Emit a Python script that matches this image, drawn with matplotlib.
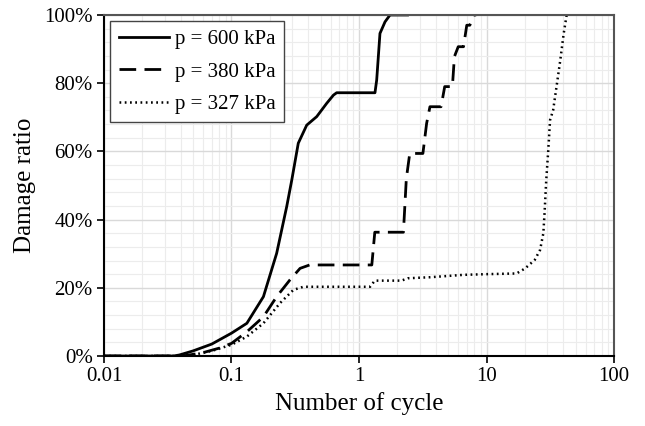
import numpy as np
import matplotlib
matplotlib.use("Agg")
import matplotlib.pyplot as plt
from matplotlib.ticker import FixedLocator, MultipleLocator, FuncFormatter, LogLocator

plt.rcParams['font.family'] = 'serif'
plt.rcParams['font.serif'] = ['Liberation Serif', 'DejaVu Serif']

# p = 600 kPa (solid)
n_600 = [0.01, 0.035, 0.039, 0.05, 0.07, 0.1, 0.132, 0.178, 0.226, 0.271, 0.297,
         0.334, 0.389, 0.466, 0.558, 0.63, 0.668, 1.334, 1.376, 1.46, 1.6, 1.75, 2.4]
d_600 = [0, 0, 0.3, 1.5, 3.5, 6.7, 9.6, 17.4, 30.1, 43.8, 51.6,
         62.4, 67.7, 70.2, 74.1, 76.5, 77.2, 77.2, 80.9, 94.6, 98.0, 100, 100]

# p = 380 kPa (dashed)
n_380 = [0.01, 0.04, 0.045, 0.06, 0.08, 0.1, 0.132, 0.178, 0.226, 0.287, 0.345, 0.41,
         1.26, 1.33, 1.67, 2.23, 2.35, 2.5, 3.17, 3.39, 3.6, 4.4, 4.7, 5.4, 5.6, 6.0,
         6.6, 7.0, 7.4, 7.9, 8.3]
d_380 = [0, 0, 0.2, 1.0, 2.3, 3.7, 7.1, 11.5, 17.4, 22.3, 25.7, 26.7,
         26.7, 36.3, 36.3, 36.3, 52, 59.4, 59.4, 68.2, 73.1, 73.1, 79.0, 79.0, 87.8, 90.7,
         90.7, 97.0, 97.0, 100, 100]

# p = 327 kPa (dotted)
n_327 = [0.01, 0.045, 0.05, 0.07, 0.1, 0.132, 0.178, 0.24, 0.306, 0.366, 1.22, 1.33,
         2.15, 2.42, 3.6, 6.6, 10.0, 17.2, 20.1, 23.9, 26.3, 27.9, 28.5, 29.4, 30.5,
         31.5, 33.3, 35.4, 37.9, 40.3, 42.5]
d_327 = [0, 0, 0.3, 1.5, 3.3, 5.7, 9.6, 15.5, 19.4, 20.3, 20.3, 22.1,
         22.1, 22.8, 23.1, 23.8, 24.0, 24.2, 25.7, 28.2, 31.1, 36.0, 41.8, 51.6, 60.4,
         69.2, 72.1, 79.0, 86.8, 94.6, 100]

x_ticks = [0.01, 0.1, 1, 10, 100]
x_labels = ['0.01', '0.1', '1', '10', '100']

fig = plt.figure(figsize=(6.45, 4.26), dpi=100)
ax = fig.add_axes([0.1612, 0.1643, 0.7908, 0.8005])

ax.plot(n_600, d_600, color='black', lw=2.0, ls='-', label='p = 600 kPa')
ax.plot(n_380, d_380, color='black', lw=2.0, ls=(0, (6, 3)), label='p = 380 kPa')
ax.plot(n_327, d_327, color='black', lw=1.8, ls=(0, (0.7, 1.4)), label='p = 327 kPa')

ax.set_xscale('log')
ax.set_xlim(0.01, 100)
ax.set_ylim(0, 100)
ax.xaxis.set_major_locator(FixedLocator(x_ticks))
ax.set_xticklabels(x_labels)
ax.xaxis.set_minor_locator(LogLocator(base=10, subs=np.arange(2, 10)))
ax.yaxis.set_major_locator(MultipleLocator(20))
ax.yaxis.set_minor_locator(MultipleLocator(4))
ax.yaxis.set_major_formatter(FuncFormatter(lambda v, p: f"{v:.0f}%"))

ax.grid(which='major', color='#d9d9d9', lw=1.0)
ax.grid(which='minor', color='#ececec', lw=0.8)
ax.set_axisbelow(True)

ax.tick_params(which='major', direction='out', length=5, width=1.2, labelsize=15, pad=3)
ax.tick_params(which='minor', length=0)
for side in ['left', 'bottom']:
    ax.spines[side].set_color('black')
    ax.spines[side].set_linewidth(1.5)
for side in ['top', 'right']:
    ax.spines[side].set_color('#555555')
    ax.spines[side].set_linewidth(1.5)

ax.set_xlabel('Number of cycle', fontsize=18, labelpad=4)
ax.set_ylabel('Damage ratio', fontsize=18, labelpad=6)

leg = ax.legend(loc='upper left', fontsize=15, handlelength=2.4, handletextpad=0.3,
                borderpad=0.4, labelspacing=0.62, fancybox=False, framealpha=1,
                edgecolor='#444444', bbox_to_anchor=(0.0, 1.0), borderaxespad=0.3)
leg.get_frame().set_linewidth(1.0)

fig.savefig('out.png', dpi=100)
